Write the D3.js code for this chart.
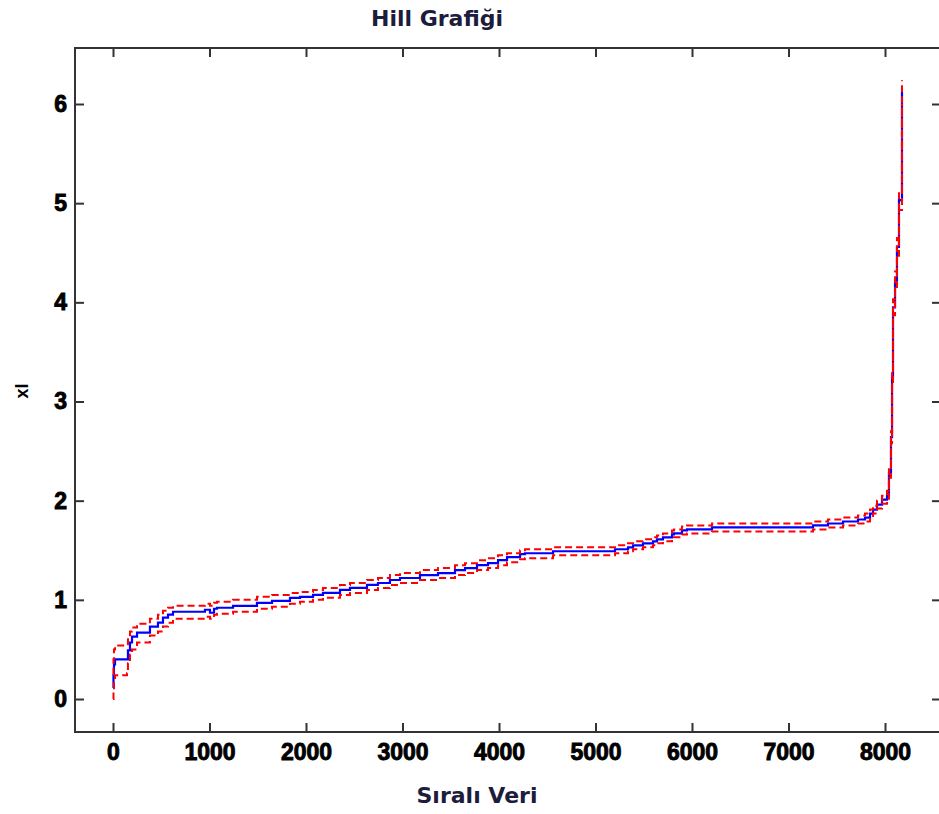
<!DOCTYPE html>
<html>
<head>
<meta charset="utf-8">
<script src="https://cdn.jsdelivr.net/npm/d3@7"></script>
<style>
  html, body { margin: 0; padding: 0; background: #fff; }
  svg { display: block; }
</style>
</head>
<body>
<svg id="chart" width="939" height="814"></svg>
<script>
// Hill estimator by ordered sample index, with its upper/lower confidence bounds
const orderIndex = [0, 5, 10, 21, 145, 155, 176, 197, 249, 383, 466, 518, 570, 622, 953, 1005, 1047, 1078, 1244, 1492, 1648, 1834, 1938, 2073, 2176, 2352, 2456, 2632, 2746, 2870, 2974, 3181, 3368, 3544, 3648, 3772, 3886, 3990, 4083, 4218, 4269, 4560, 5202, 5337, 5389, 5492, 5596, 5637, 5699, 5793, 5813, 5896, 5948, 6207, 7254, 7409, 7565, 7720, 7793, 7845, 7876, 7917, 7969, 8021, 8041, 8062, 8073, 8083, 8104, 8124, 8145, 8176];
const hillValue = [0.11, 0.24, 0.35, 0.40, 0.40, 0.49, 0.57, 0.63, 0.67, 0.73, 0.77, 0.82, 0.85, 0.88, 0.90, 0.87, 0.91, 0.92, 0.94, 0.97, 0.99, 1.02, 1.03, 1.05, 1.07, 1.10, 1.12, 1.15, 1.17, 1.20, 1.22, 1.25, 1.27, 1.30, 1.32, 1.35, 1.37, 1.40, 1.43, 1.46, 1.47, 1.49, 1.51, 1.53, 1.55, 1.57, 1.59, 1.61, 1.63, 1.66, 1.67, 1.70, 1.71, 1.73, 1.75, 1.77, 1.79, 1.81, 1.83, 1.87, 1.91, 1.96, 2.01, 2.06, 2.28, 2.64, 3.25, 3.95, 4.22, 4.56, 5.03, 6.12];
const upperBound = [0.25, 0.40, 0.50, 0.54, 0.54, 0.62, 0.68, 0.72, 0.76, 0.81, 0.85, 0.89, 0.92, 0.94, 0.96, 0.94, 0.97, 0.98, 1.00, 1.03, 1.05, 1.07, 1.08, 1.10, 1.12, 1.15, 1.17, 1.20, 1.22, 1.25, 1.27, 1.30, 1.32, 1.35, 1.37, 1.40, 1.42, 1.45, 1.47, 1.50, 1.51, 1.53, 1.55, 1.57, 1.59, 1.61, 1.63, 1.65, 1.67, 1.70, 1.71, 1.74, 1.75, 1.77, 1.79, 1.81, 1.83, 1.85, 1.87, 1.91, 1.95, 2.00, 2.05, 2.10, 2.33, 2.70, 3.32, 4.03, 4.31, 4.65, 5.13, 6.24];
const lowerBound = [0.00, 0.08, 0.19, 0.24, 0.26, 0.36, 0.45, 0.50, 0.57, 0.64, 0.68, 0.73, 0.77, 0.81, 0.83, 0.81, 0.85, 0.86, 0.88, 0.91, 0.93, 0.96, 0.98, 1.00, 1.02, 1.05, 1.07, 1.10, 1.12, 1.15, 1.17, 1.20, 1.22, 1.25, 1.27, 1.30, 1.32, 1.35, 1.38, 1.41, 1.42, 1.45, 1.47, 1.49, 1.51, 1.53, 1.55, 1.57, 1.59, 1.62, 1.63, 1.66, 1.67, 1.69, 1.71, 1.73, 1.75, 1.77, 1.79, 1.83, 1.87, 1.92, 1.97, 2.02, 2.23, 2.58, 3.18, 3.87, 4.13, 4.47, 4.93, 6.00];

const xTickValues = [0, 1000, 2000, 3000, 4000, 5000, 6000, 7000, 8000];
const yTickValues = [0, 1, 2, 3, 4, 5, 6];

const titleText = "Hill Grafiği";
const xLabelText = "Sıralı Veri";
const yLabelText = "xl";

const svg = d3.select("#chart");

// Plot frame (right edge extends past the window)
const frame = { left: 75, top: 48, right: 941, bottom: 732 };

const x = d3.scaleLinear().domain([0, 8000]).range([113, 885]);
const y = d3.scaleLinear().domain([0, 6]).range([699, 104]);

const axisColor = "#333";
const tickFont = "'Liberation Sans', Arial, sans-serif";

// Series
const rows = orderIndex.map((k, i) => ({ k, v: hillValue[i], hi: upperBound[i], lo: lowerBound[i] }));

const plot = svg.append("g");
const stepLine = key => d3.line().x(d => x(d.k)).y(d => y(d[key])).curve(d3.curveStepAfter);

plot.append("path")
  .datum(rows)
  .attr("fill", "none")
  .attr("stroke", "#0000ff")
  .attr("stroke-width", 2.2)
  .attr("d", stepLine("v"));

["hi", "lo"].forEach(key => {
  plot.append("path")
    .datum(rows)
    .attr("fill", "none")
    .attr("stroke", "#ff0000")
    .attr("stroke-width", 2)
    .attr("stroke-dasharray", "7,4")
    .attr("d", stepLine(key));
});

// Axes
function styleAxis(g) {
  g.select(".domain").remove();
  g.selectAll(".tick line").attr("stroke", axisColor).attr("stroke-width", 2);
  g.selectAll(".tick text")
    .attr("fill", "#000")
    .attr("stroke", "#000")
    .attr("stroke-width", 0.9)
    .style("font-family", tickFont)
    .style("font-weight", "bold")
    .style("font-size", "23px");
}

svg.append("g")
  .attr("transform", `translate(0,${frame.bottom})`)
  .call(d3.axisBottom(x).tickValues(xTickValues).tickSize(-9).tickPadding(12).tickFormat(d3.format("d")))
  .call(styleAxis);

svg.append("g")
  .attr("transform", `translate(0,${frame.top})`)
  .call(d3.axisTop(x).tickValues(xTickValues).tickSize(-9).tickFormat(""))
  .call(styleAxis);

svg.append("g")
  .attr("transform", `translate(${frame.left},0)`)
  .call(d3.axisLeft(y).tickValues(yTickValues).tickSize(-9).tickPadding(8).tickFormat(d3.format("d")))
  .call(styleAxis);

svg.append("g")
  .attr("transform", `translate(${frame.right},0)`)
  .call(d3.axisRight(y).tickValues(yTickValues).tickSize(-9).tickFormat(""))
  .call(styleAxis);

svg.append("rect")
  .attr("x", frame.left)
  .attr("y", frame.top)
  .attr("width", frame.right - frame.left)
  .attr("height", frame.bottom - frame.top)
  .attr("fill", "none")
  .attr("stroke", axisColor)
  .attr("stroke-width", 2);

// Titles
const titleFont = "'DejaVu Sans', Verdana, sans-serif";

svg.append("text")
  .attr("x", 437)
  .attr("y", 26)
  .attr("text-anchor", "middle")
  .attr("fill", "#1c1c3c")
  .style("font-family", titleFont)
  .style("font-weight", "bold")
  .style("font-size", "22px")
  .text(titleText);

svg.append("text")
  .attr("x", 477)
  .attr("y", 803)
  .attr("text-anchor", "middle")
  .attr("fill", "#1c1c3c")
  .style("font-family", titleFont)
  .style("font-weight", "bold")
  .style("font-size", "22px")
  .text(xLabelText);

svg.append("text")
  .attr("transform", "translate(28,391) rotate(-90)")
  .attr("text-anchor", "middle")
  .attr("fill", "#000")
  .style("font-family", tickFont)
  .style("font-weight", "bold")
  .style("font-size", "18px")
  .text(yLabelText);
</script>
</body>
</html>
